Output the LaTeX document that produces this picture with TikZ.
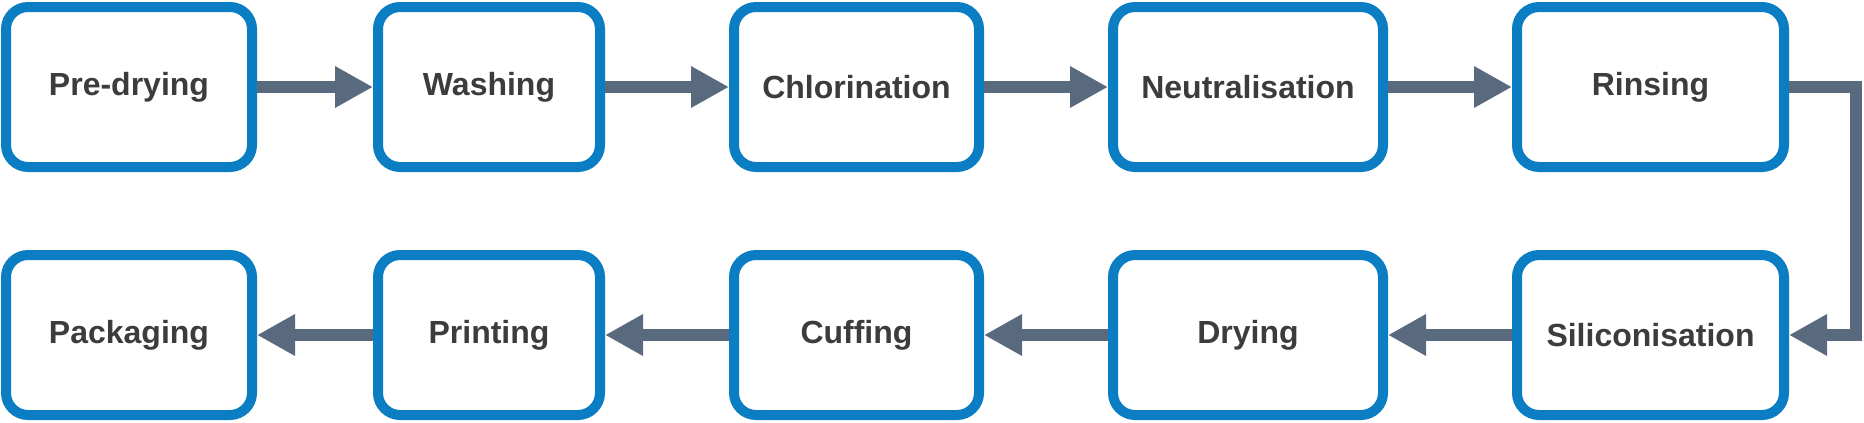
\documentclass[tikz,border=0pt]{standalone}
\usepackage{fontspec}
\setmainfont{Liberation Sans}
\usetikzlibrary{positioning,arrows.meta}

\definecolor{boxblue}{RGB}{11,125,194}
\definecolor{flowgrey}{RGB}{89,105,126}
\definecolor{labelgrey}{RGB}{60,60,60}

\tikzset{
  process/.style={draw=boxblue, line width=5pt, rounded corners=11pt,
    fill=white, minimum height=80pt, inner sep=0pt, text=labelgrey,
    font=\fontsize{16}{19}\selectfont\bfseries},
  flow/.style={draw=flowgrey, line width=6pt,
    -{Triangle[length=19pt,width=19.5pt]}},
}

\begin{document}
\begin{tikzpicture}[node distance=39pt and 62pt]
  \useasboundingbox (0,0) rectangle (932pt,-211.5pt);

  % top row, left to right
  \node [process, minimum width=123pt, anchor=north west] (pre) at (0.5pt,-1pt) {Pre-drying};
  \node [process, minimum width=111pt, right=58pt of pre] (was) {Washing};
  \node [process, minimum width=122.5pt, right=of was] (chl) {Chlorination};
  \node [process, minimum width=135pt, right=of chl] (neu) {Neutralisation};
  \node [process, minimum width=133.5pt, right=of neu] (rin) {Rinsing};

  % bottom row, right to left
  \node [process, minimum width=133.5pt, below=of rin] (sil) {Siliconisation};
  \node [process, minimum width=135pt, below=of neu] (dry) {Drying};
  \node [process, minimum width=122.5pt, below=of chl] (cuf) {Cuffing};
  \node [process, minimum width=111pt, below=of was] (pri) {Printing};
  \node [process, minimum width=123pt, below=of pre] (pac) {Packaging};

  \draw [flow] (pre) -- (was);
  \draw [flow] (was) -- (chl);
  \draw [flow] (chl) -- (neu);
  \draw [flow] (neu) -- (rin);
  \draw [flow] (rin.east) -- ++(33.5pt,0) |- (sil.east);
  \draw [flow] (sil) -- (dry);
  \draw [flow] (dry) -- (cuf);
  \draw [flow] (cuf) -- (pri);
  \draw [flow] (pri) -- (pac);
\end{tikzpicture}
\end{document}
